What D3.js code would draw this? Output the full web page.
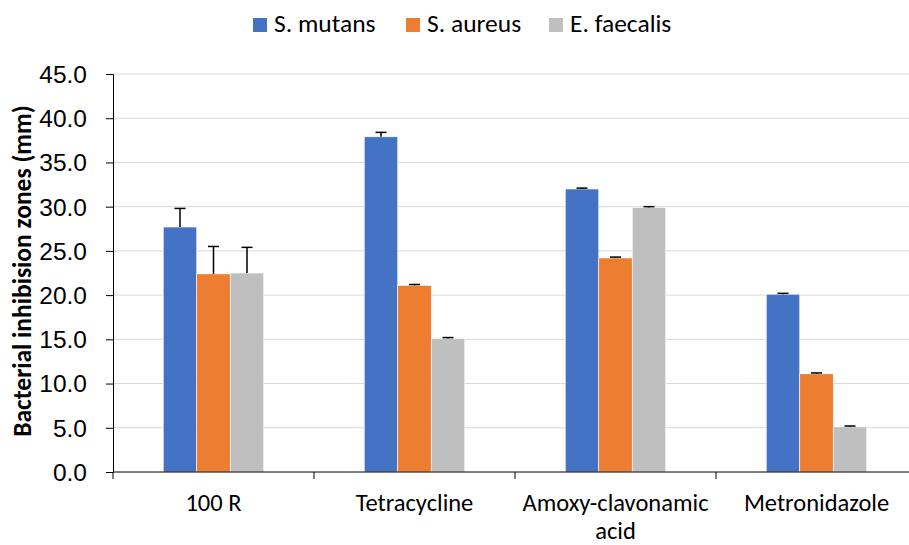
<!DOCTYPE html>
<html>
<head>
<meta charset="utf-8">
<script src="https://cdn.jsdelivr.net/npm/d3@7"></script>
<style>
  body { margin: 0; background: #fff; }
  svg { display: block; font-family: Carlito, Lato, "Open Sans", sans-serif; }
</style>
</head>
<body>
<div id="chart"></div>
<script>
const width = 909, height = 545;

// data
const categories = ["100 R", "Tetracycline", "Amoxy-clavonamic acid", "Metronidazole"];
const categoryLines = [["100 R"], ["Tetracycline"], ["Amoxy-clavonamic", "acid"], ["Metronidazole"]];
const seriesNames = ["S. mutans", "S. aureus", "E. faecalis"];
const seriesColors = ["#4472C4", "#ED7D31", "#BFBFBF"];
const mutans = [27.7, 37.9, 32.0, 20.1];
const aureus = [22.4, 21.1, 24.2, 11.1];
const faecalis = [22.5, 15.1, 29.9, 5.1];
const mutansErr = [2.1, 0.5, 0.1, 0.1];
const aureusErr = [3.1, 0.1, 0.1, 0.1];
const faecalisErr = [2.9, 0.1, 0.1, 0.1];
const yTicks = [0, 5, 10, 15, 20, 25, 30, 35, 40, 45];

const values = [mutans, aureus, faecalis];
const errors = [mutansErr, aureusErr, faecalisErr];

const svg = d3.create("svg")
    .attr("width", width)
    .attr("height", height)
    .attr("viewBox", `0 0 ${width} ${height}`);

const x0 = d3.scaleBand().domain(categories).range([113, 917]).padding(0);
const x1 = d3.scaleBand().domain(seriesNames).range([0, x0.bandwidth()]).paddingInner(0).paddingOuter(1.5);
const y = d3.scaleLinear().domain([0, 45]).range([472, 74]);

// gridlines
svg.append("g")
  .selectAll("line")
  .data(yTicks.slice(1))
  .join("line")
    .attr("x1", 113).attr("x2", 917)
    .attr("y1", d => y(d)).attr("y2", d => y(d))
    .attr("stroke", "#D9D9D9").attr("stroke-width", 1);

// bars
const groups = svg.append("g")
  .selectAll("g")
  .data(categories)
  .join("g")
    .attr("transform", d => `translate(${x0(d)},0)`);

const rows = (c, i) => seriesNames.map((s, j) => ({s, j, v: values[j][i], e: errors[j][i]}));

groups.selectAll("rect")
  .data(rows)
  .join("rect")
    .attr("x", d => x1(d.s))
    .attr("y", d => y(d.v))
    .attr("width", x1.bandwidth())
    .attr("height", d => y(0) - y(d.v))
    .attr("fill", d => seriesColors[d.j])
    .attr("stroke", "#fff").attr("stroke-width", 0.6);

// error bars (plus only)
const eb = groups.selectAll("g.err")
  .data(rows)
  .join("g").attr("class", "err")
    .attr("stroke", "#000").attr("stroke-width", 1.5);
eb.append("line")
    .attr("x1", d => x1(d.s) + x1.bandwidth() / 2).attr("x2", d => x1(d.s) + x1.bandwidth() / 2)
    .attr("y1", d => y(d.v)).attr("y2", d => y(d.v + d.e));
eb.append("line")
    .attr("x1", d => x1(d.s) + x1.bandwidth() / 2 - 5.5).attr("x2", d => x1(d.s) + x1.bandwidth() / 2 + 5.5)
    .attr("y1", d => y(d.v + d.e)).attr("y2", d => y(d.v + d.e));

// y axis
const yAxis = svg.append("g")
    .attr("transform", "translate(113,0)")
    .call(d3.axisLeft(y).tickValues(yTicks).tickFormat(d3.format(".1f")).tickSizeOuter(0).tickSize(7).tickPadding(19));
yAxis.select(".domain").attr("stroke", "#000");
yAxis.selectAll(".tick line").attr("stroke", "#000");
yAxis.selectAll("text").attr("font-size", 24.5).attr("fill", "#000").attr("font-family", null).attr("dy", "0.34em");

// x axis
const xAxis = svg.append("g")
    .attr("transform", "translate(0,472)");
xAxis.append("line").attr("x1", 113).attr("x2", 917).attr("stroke", "#000");
xAxis.selectAll("line.tk")
  .data(categories.map(c => x0(c)).concat([917]))
  .join("line").attr("class", "tk")
    .attr("x1", d => d).attr("x2", d => d)
    .attr("y1", 0).attr("y2", 7)
    .attr("stroke", "#000");
const xl = xAxis.selectAll("text")
  .data(categories)
  .join("text")
    .attr("text-anchor", "middle")
    .attr("font-size", 24.5)
    .attr("fill", "#000")
    .attr("transform", d => `translate(${x0(d) + x0.bandwidth() / 2},39)`);
xl.selectAll("tspan")
  .data((d, i) => categoryLines[i])
  .join("tspan")
    .attr("x", 0)
    .attr("y", (d, k) => k * 28)
    .text(d => d);

// y title
svg.append("text")
    .attr("transform", "translate(31,271) rotate(-90)")
    .attr("text-anchor", "middle")
    .attr("font-size", 25.5)
    .attr("font-weight", "bold")
    .attr("fill", "#000")
    .text("Bacterial inhibision zones (mm)");

// legend
const legendX = [253, 406, 549];
const lg = svg.append("g")
  .selectAll("g")
  .data(seriesNames)
  .join("g")
    .attr("transform", (d, i) => `translate(${legendX[i]},0)`);
lg.append("rect").attr("y", 18).attr("width", 14).attr("height", 14).attr("fill", (d, i) => seriesColors[i]);
lg.append("text").attr("x", 21).attr("y", 31.5).attr("font-size", 25.5).attr("fill", "#000").text(d => d);

document.getElementById("chart").appendChild(svg.node());
</script>
</body>
</html>
